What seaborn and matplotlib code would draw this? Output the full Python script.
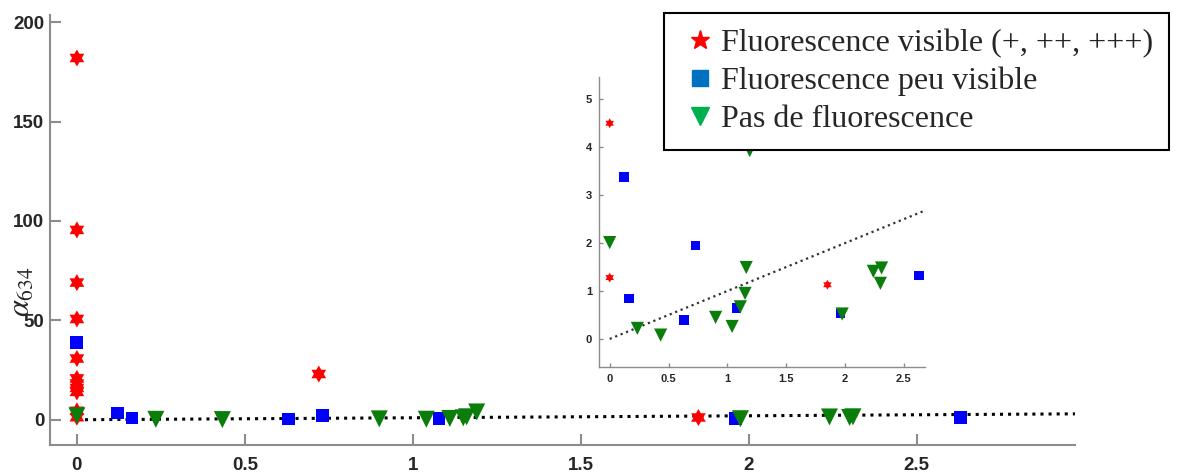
import numpy as np
import pandas as pd
import matplotlib
matplotlib.use("Agg")
import matplotlib.pyplot as plt
from matplotlib.lines import Line2D
import seaborn as sns

# data (x: ratio, y: alpha_634)
vis_x = [0, 0, 0, 0, 0, 0, 0, 0, 0, 0, 0, 0.72, 1.85]
vis_y = [182, 95.5, 69, 50.7, 30.8, 20.8, 18.2, 16.0, 14.0, 4.5, 1.28, 23, 1.13]

peu_x = [0, 0.12, 0.164, 0.63, 0.73, 1.078, 1.96, 2.63]
peu_y = [38.8, 3.38, 0.84, 0.40, 1.95, 0.64, 0.53, 1.32]

pas_x = [0, 0.235, 0.433, 0.9, 1.04, 1.11, 1.15, 1.16, 1.19, 1.975, 2.24, 2.30, 2.31]
pas_y = [2.01, 0.22, 0.08, 0.45, 0.26, 0.67, 0.95, 1.49, 3.93, 0.52, 1.41, 1.16, 1.48]

fit_slope = 1.0
fit_x = [0, 3.0]

labels = ["Fluorescence visible (+, ++, +++)",
          "Fluorescence peu visible",
          "Pas de fluorescence"]

x_ticks = [0, 0.5, 1, 1.5, 2, 2.5]
x_ticklabels = ["0", "0.5", "1", "1.5", "2", "2.5"]
y_ticks = [0, 50, 100, 150, 200]
inset_y_ticks = [0, 1, 2, 3, 4, 5]

df = pd.concat([
    pd.DataFrame({"x": vis_x, "y": vis_y, "grp": labels[0]}),
    pd.DataFrame({"x": peu_x, "y": peu_y, "grp": labels[1]}),
    pd.DataFrame({"x": pas_x, "y": pas_y, "grp": labels[2]}),
])
fit_y = [fit_slope * v for v in fit_x]

sns.set_style("white")
plt.rcParams["mathtext.fontset"] = "stix"

# hexagram marker (MATLAB style six-point star)
ang = np.pi / 2 + np.arange(12) * np.pi / 6
rad = np.where(np.arange(12) % 2 == 0, 1.0, 0.577)
hexagram = list(zip(rad * np.cos(ang), rad * np.sin(ang)))

plot_colors = {labels[0]: "#ff0000", labels[1]: "#0000ff", labels[2]: "#0a7d0a"}
markers = {labels[0]: hexagram, labels[1]: "s", labels[2]: "v"}
main_sizes = {labels[0]: 150, labels[1]: 85, labels[2]: 150}
inset_sizes = {labels[0]: 50, labels[1]: 48, labels[2]: 90}

fig = plt.figure(figsize=(11.77, 4.73), dpi=100)
ax = fig.add_axes([0.0425, 0.0592, 0.8706, 0.909])
axin = fig.add_axes([0.509, 0.2247, 0.277, 0.612])


def style_axes(a, fs, tl, lw):
    for s in ["top", "right"]:
        a.spines[s].set_visible(False)
    for s in ["left", "bottom"]:
        a.spines[s].set_color("#8c8c8c")
        a.spines[s].set_linewidth(lw)
    a.tick_params(direction="in", length=tl, width=lw, color="#8c8c8c",
                  labelsize=fs, labelcolor="#262626", left=True, bottom=True)
    for t in a.get_xticklabels() + a.get_yticklabels():
        t.set_fontweight("bold")
        t.set_fontfamily("Liberation Sans")


# main plot
ax.plot(fit_x, fit_y, ls=":", color="black", lw=2.2, zorder=1)
for g in labels:
    d = df[df.grp == g]
    sns.scatterplot(x=d.x, y=d.y, marker=markers[g], s=main_sizes[g],
                    color=plot_colors[g], linewidth=0, edgecolor="none",
                    ax=ax, zorder=3)
ax.set_xlim(-0.08, 2.97)
ax.set_ylim(-12.7, 203.6)
ax.set_xticks(x_ticks)
ax.set_xticklabels(x_ticklabels)
ax.set_yticks(y_ticks)
ax.set_xlabel("")
ax.set_ylabel("")
ax.tick_params(axis="x", pad=9)
ax.tick_params(axis="y", pad=4)
style_axes(ax, 13.5, 8, 1.5)

# inset
axin.plot(fit_x, fit_y, ls=":", color="#333333", lw=1.6, zorder=1)
for g in labels:
    d = df[df.grp == g]
    sns.scatterplot(x=d.x, y=d.y, marker=markers[g], s=inset_sizes[g],
                    color=plot_colors[g], linewidth=0, edgecolor="none",
                    ax=axin, zorder=3)
axin.set_xlim(-0.09, 2.68)
axin.set_ylim(-0.58, 5.46)
axin.set_xticks(x_ticks)
axin.set_xticklabels(x_ticklabels)
axin.set_yticks(inset_y_ticks)
axin.set_xlabel("")
axin.set_ylabel("")
axin.tick_params(pad=5)
style_axes(axin, 8, 3, 1.0)
axin.patch.set_alpha(0)

fig.text(0.0185, 0.382, r"$\alpha_{634}$", rotation=90, fontsize=22,
         ha="center", va="center")

# legend
handles = [
    Line2D([], [], ls="", marker="*", color="#ff0000", markersize=14),
    Line2D([], [], ls="", marker="s", color="#0070c0", markersize=11),
    Line2D([], [], ls="", marker="v", color="#00b050", markersize=13),
]
leg = fig.legend(handles, labels, loc="upper left", bbox_to_anchor=(0.564, 0.973),
                 borderaxespad=0, frameon=True, fancybox=False, framealpha=1,
                 edgecolor="black", borderpad=0.5, handlelength=1.25,
                 handletextpad=0.05, labelspacing=0.27,
                 prop={"family": "Liberation Serif", "size": 23})
leg.get_frame().set_linewidth(1.5)

fig.savefig("out.png", dpi=100)
